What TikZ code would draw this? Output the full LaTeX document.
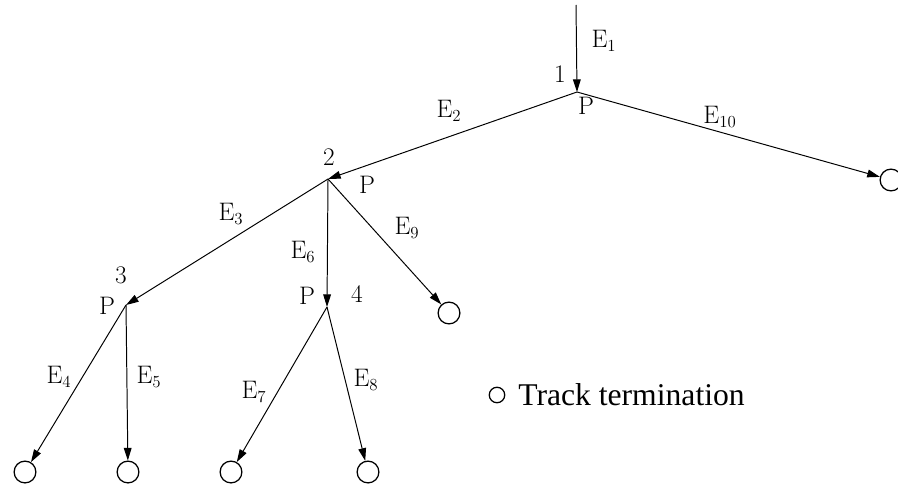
\documentclass[tikz,border=0pt]{standalone}
\usepackage{fontspec}
\newfontfamily\legendfont{Liberation Serif}
\usetikzlibrary{arrows.meta, positioning}

\begin{document}
\begin{tikzpicture}[x=0.025cm, y=-0.025cm,
  lbl/.style={font=\fontsize{18}{20}\selectfont, inner sep=0pt},
  term/.style={circle, draw, line width=0.9pt, minimum size=15.5pt, inner sep=0pt},
  track/.style={-{Triangle[length=9pt,width=5.5pt]}, line width=0.7pt}]
  \useasboundingbox (0,0) rectangle (898,486);

  % branch points
  \coordinate (top) at (576,5);
  \coordinate (n1) at (577,92);
  \coordinate (n2) at (328,179);
  \coordinate (n3) at (126,305);
  \coordinate (n4) at (327,307);

  % track terminations
  \node[term] (t4) at (25,472) {};
  \node[term] (t5) at (128,472) {};
  \node[term] (t7) at (231,472) {};
  \node[term] (t8) at (368,472) {};
  \node[term] (t9) at (449,313) {};
  \node[term] (t10) at (891,180) {};

  \draw[track] (top) -- (n1);
  \draw[track] (n1) -- (n2);
  \draw[track] (n1) -- (t10);
  \draw[track] (n2) -- (n3);
  \draw[track] (n2) -- (n4);
  \draw[track] (n2) -- (t9);
  \draw[track] (n3) -- (t4);
  \draw[track] (n3) -- (t5);
  \draw[track] (n4) -- (t7);
  \draw[track] (n4) -- (t8);

  % edge labels
  \node[lbl] (e1) at (604,41) {$\mathrm{E}_{1}$};
  \node[lbl] (e2) at (449,111) {$\mathrm{E}_{2}$};
  \node[lbl] (e3) at (231,214) {$\mathrm{E}_{3}$};
  \node[lbl] (e4) at (59,377) {$\mathrm{E}_{4}$};
  \node[lbl] (e5) at (149,377) {$\mathrm{E}_{5}$};
  \node[lbl] (e6) at (303,252) {$\mathrm{E}_{6}$};
  \node[lbl] (e7) at (254,392) {$\mathrm{E}_{7}$};
  \node[lbl] (e8) at (366,380) {$\mathrm{E}_{8}$};
  \node[lbl] (e9) at (407,228) {$\mathrm{E}_{9}$};
  \node[lbl] (e10) at (720,117) {$\mathrm{E}_{10}$};

  % node numbers and P marks
  \node[lbl] (num1) at (560,74) {1};
  \node[lbl] (p1) at (586,106) {P};
  \node[lbl] (num2) at (329,157) {2};
  \node[lbl] (p2) at (367,185) {P};
  \node[lbl] (num3) at (121,275) {3};
  \node[lbl] (p3) at (107,306) {P};
  \node[lbl] (num4) at (357,294) {4};
  \node[lbl] (p4) at (307,296) {P};

  % legend
  \node[circle, draw, line width=0.9pt, minimum size=11pt, inner sep=0pt] (legcirc) at (497,395) {};
  \node[font=\legendfont\fontsize{22.5}{24}\selectfont, anchor=base west, inner sep=0pt] (legtext) at (518,405) {Track termination};
\end{tikzpicture}
\end{document}
